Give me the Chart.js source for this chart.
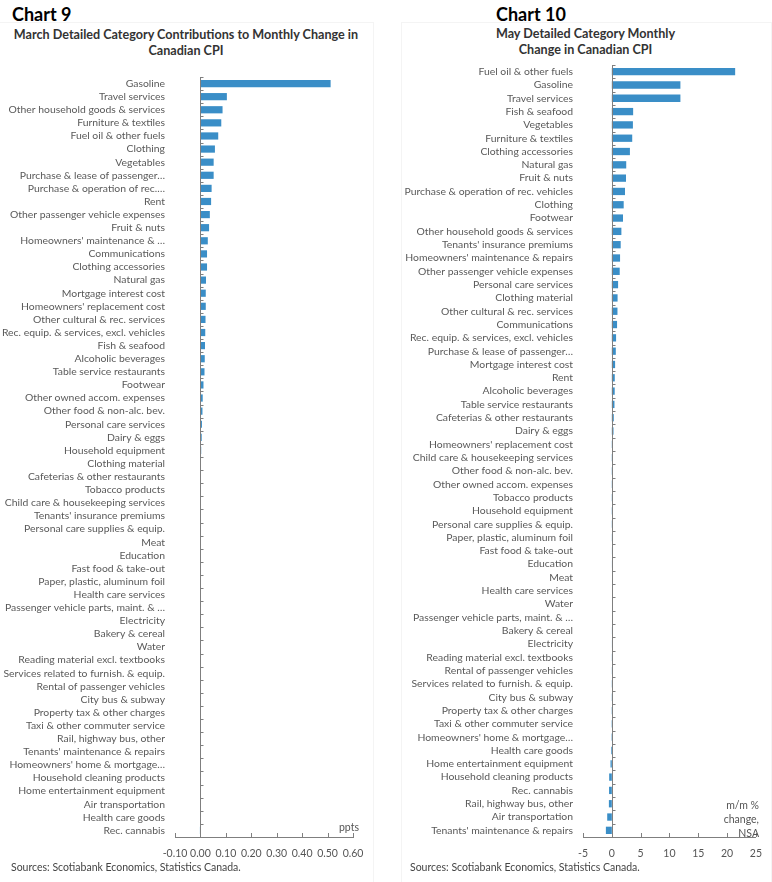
<!DOCTYPE html>
<html><head><meta charset="utf-8">
<script src="https://cdn.jsdelivr.net/npm/chart.js@4.4.0/dist/chart.umd.min.js"></script>
<style>
body{margin:0;background:#fff;width:772px;height:882px;position:relative;overflow:hidden;font-family:Lato,"Open Sans",sans-serif;}
.panel{position:absolute;border:1px solid #f4f4f4;}
.h{position:absolute;font-weight:bold;font-size:18px;line-height:18px;color:#000;white-space:nowrap;}
.sub{position:absolute;font-weight:bold;font-size:12.6px;color:#333;text-align:center;line-height:16px;white-space:nowrap;}
.src{position:absolute;font-size:10.5px;line-height:12px;color:#444;white-space:nowrap;}
.note{position:absolute;font-size:10.5px;color:#555;text-align:right;line-height:14px;white-space:nowrap;}
canvas{position:absolute;top:0;}
</style></head>
<body>
<div class="panel" style="left:-1px;top:22px;width:373px;height:870px"></div>
<div class="panel" style="left:401px;top:22px;width:369px;height:870px"></div>
<div class="h" style="left:12px;top:5px">Chart 9</div>
<div class="sub" style="left:0px;top:27px;width:372px">March Detailed Category Contributions to Monthly Change in<br>Canadian CPI</div>
<div class="h" style="left:496px;top:5px">Chart 10</div>
<div class="sub" style="left:401px;top:26px;width:369px">May Detailed Category Monthly<br>Change in Canadian CPI</div>
<div style="position:absolute;left:0;top:0;width:386px;height:882px"><canvas id="c1" width="386" height="882" style="left:0;width:386px;height:882px"></canvas></div>
<div style="position:absolute;left:386px;top:0;width:386px;height:882px"><canvas id="c2" width="386" height="882" style="left:0;width:386px;height:882px"></canvas></div>
<div class="note" style="left:300px;top:820px;width:59px">ppts</div>
<div class="note" style="left:680px;top:798px;width:79px">m/m %<br>change,<br>NSA</div>
<div class="src" style="left:11px;top:861px">Sources: Scotiabank Economics, Statistics Canada.</div>
<div class="src" style="left:410px;top:861px">Sources: Scotiabank Economics, Statistics Canada.</div>
<script>
const marchCategories = [
"Gasoline","Travel services","Other household goods & services","Furniture & textiles","Fuel oil & other fuels",
"Clothing","Vegetables","Purchase & lease of passenger…","Purchase & operation of rec.…","Rent",
"Other passenger vehicle expenses","Fruit & nuts","Homeowners' maintenance & …","Communications","Clothing accessories",
"Natural gas","Mortgage interest cost","Homeowners' replacement cost","Other cultural & rec. services","Rec. equip. & services, excl. vehicles",
"Fish & seafood","Alcoholic beverages","Table service restaurants","Footwear","Other owned accom. expenses",
"Other food & non-alc. bev.","Personal care services","Dairy & eggs","Household equipment","Clothing material",
"Cafeterias & other restaurants","Tobacco products","Child care & housekeeping services","Tenants' insurance premiums","Personal care supplies & equip.",
"Meat","Education","Fast food & take-out","Paper, plastic, aluminum foil","Health care services",
"Passenger vehicle parts, maint. & …","Electricity","Bakery & cereal","Water","Reading material excl. textbooks",
"Services related to furnish. & equip.","Rental of passenger vehicles","City bus & subway","Property tax & other charges","Taxi & other commuter service",
"Rail, highway bus, other","Tenants' maintenance & repairs","Homeowners' home & mortgage…","Household cleaning products","Home entertainment equipment",
"Air transportation","Health care goods","Rec. cannabis"];
const marchContrib = [
0.512,0.104,0.087,0.082,0.070,
0.057,0.052,0.052,0.044,0.042,
0.037,0.034,0.029,0.026,0.026,
0.022,0.021,0.021,0.020,0.019,
0.018,0.017,0.016,0.012,0.009,
0.008,0.006,0.005,0.003,0.002,
0.002,0.0015,0.001,0.001,0.001,
0.0006,0.0004,0.0003,0.0002,0.0001,
0,0,0,0,0,
0,-0.0001,-0.0002,-0.0003,-0.0004,
-0.0005,-0.0006,-0.0008,-0.001,-0.0012,
-0.0014,-0.0016,-0.002];
const marchTickValues = [-0.10,0.00,0.10,0.20,0.30,0.40,0.50,0.60];

const mayCategories = [
"Fuel oil & other fuels","Gasoline","Travel services","Fish & seafood","Vegetables",
"Furniture & textiles","Clothing accessories","Natural gas","Fruit & nuts","Purchase & operation of rec. vehicles",
"Clothing","Footwear","Other household goods & services","Tenants' insurance premiums","Homeowners' maintenance & repairs",
"Other passenger vehicle expenses","Personal care services","Clothing material","Other cultural & rec. services","Communications",
"Rec. equip. & services, excl. vehicles","Purchase & lease of passenger…","Mortgage interest cost","Rent","Alcoholic beverages",
"Table service restaurants","Cafeterias & other restaurants","Dairy & eggs","Homeowners' replacement cost","Child care & housekeeping services",
"Other food & non-alc. bev.","Other owned accom. expenses","Tobacco products","Household equipment","Personal care supplies & equip.",
"Paper, plastic, aluminum foil","Fast food & take-out","Education","Meat","Health care services",
"Water","Passenger vehicle parts, maint. & …","Bakery & cereal","Electricity","Reading material excl. textbooks",
"Rental of passenger vehicles","Services related to furnish. & equip.","City bus & subway","Property tax & other charges","Taxi & other commuter service",
"Homeowners' home & mortgage…","Health care goods","Home entertainment equipment","Household cleaning products","Rec. cannabis",
"Rail, highway bus, other","Air transportation","Tenants' maintenance & repairs"];
const mayChange = [
21.4,11.9,11.9,3.7,3.66,
3.54,3.14,2.5,2.46,2.29,
2.06,1.94,1.66,1.54,1.43,
1.37,1.09,1.0,0.98,0.91,
0.74,0.69,0.57,0.51,0.5,
0.46,0.34,0.29,0.17,0.16,
0.12,0.1,0.08,0.04,0.03,
0.02,0.01,0.01,0,0,
0,0,-0.01,-0.01,-0.02,
-0.02,-0.03,-0.03,-0.04,-0.05,
-0.06,-0.12,-0.23,-0.46,-0.48,
-0.51,-0.8,-1.03];
const mayTickValues = [-5,0,5,10,15,20,25];

const axisDeco = {
  id:'axisDeco',
  afterDatasetsDraw(chart){
    const ctx = chart.ctx, x = chart.scales.x, y = chart.scales.y;
    const x0 = Math.round(x.getPixelForValue(0)) + 0.5;
    ctx.save();
    ctx.strokeStyle = '#7f7f7f';
    ctx.lineWidth = 1;
    ctx.beginPath();
    ctx.moveTo(x0, y.top); ctx.lineTo(x0, y.bottom);
    const n = chart.data.labels.length;
    for (let i = 0; i <= n; i++) {
      const py = Math.round(y.top + i * (y.bottom - y.top) / n) + 0.5;
      ctx.moveTo(x0, py); ctx.lineTo(x0 + 3, py);
    }
    x.ticks.forEach(t => {
      const px = Math.round(x.getPixelForValue(t.value)) + 0.5;
      ctx.moveTo(px, x.top); ctx.lineTo(px, x.top - 4);
    });
    ctx.stroke();
    ctx.restore();
  }
};

function makeChart(id, labels, values, tickValues, areaLeft, padTop, padRight, fmt) {
  return new Chart(document.getElementById(id), {
    type: 'bar',
    data: { labels: labels, datasets: [{ data: values, backgroundColor: '#3a8ec7', borderWidth: 0, barPercentage: 0.55, categoryPercentage: 1 }] },
    options: {
      indexAxis: 'y', responsive: false, animation: false, devicePixelRatio: 1,
      layout: { padding: { top: padTop, right: padRight, left: 0, bottom: 0 } },
      plugins: { legend: { display: false }, tooltip: { enabled: false } },
      scales: {
        x: {
          min: tickValues[0], max: tickValues[tickValues.length - 1],
          afterBuildTicks: s => { s.ticks = tickValues.map(v => ({ value: v })); },
          ticks: { autoSkip: false, padding: 10, color: '#555', font: { family: 'Lato', size: 10.5 }, callback: v => fmt(v), maxRotation: 0 },
          grid: { display: false, drawTicks: false },
          border: { display: true, color: '#7f7f7f', width: 1 },
          afterFit: s => { s.height = 45; }
        },
        y: {
          ticks: { autoSkip: false, padding: 10, color: '#595959', font: { family: 'Lato', size: 10.4 } },
          grid: { display: false, drawTicks: false },
          border: { display: false },
          afterFit: s => { s.width = areaLeft; }
        }
      }
    },
    plugins: [axisDeco]
  });
}

makeChart('c1', marchCategories, marchContrib, marchTickValues, 175, 77, 33, v => Number(v).toFixed(2));
makeChart('c2', mayCategories, mayChange, mayTickValues, 197, 65, 14, v => String(Math.round(v)));
</script>
</body></html>
